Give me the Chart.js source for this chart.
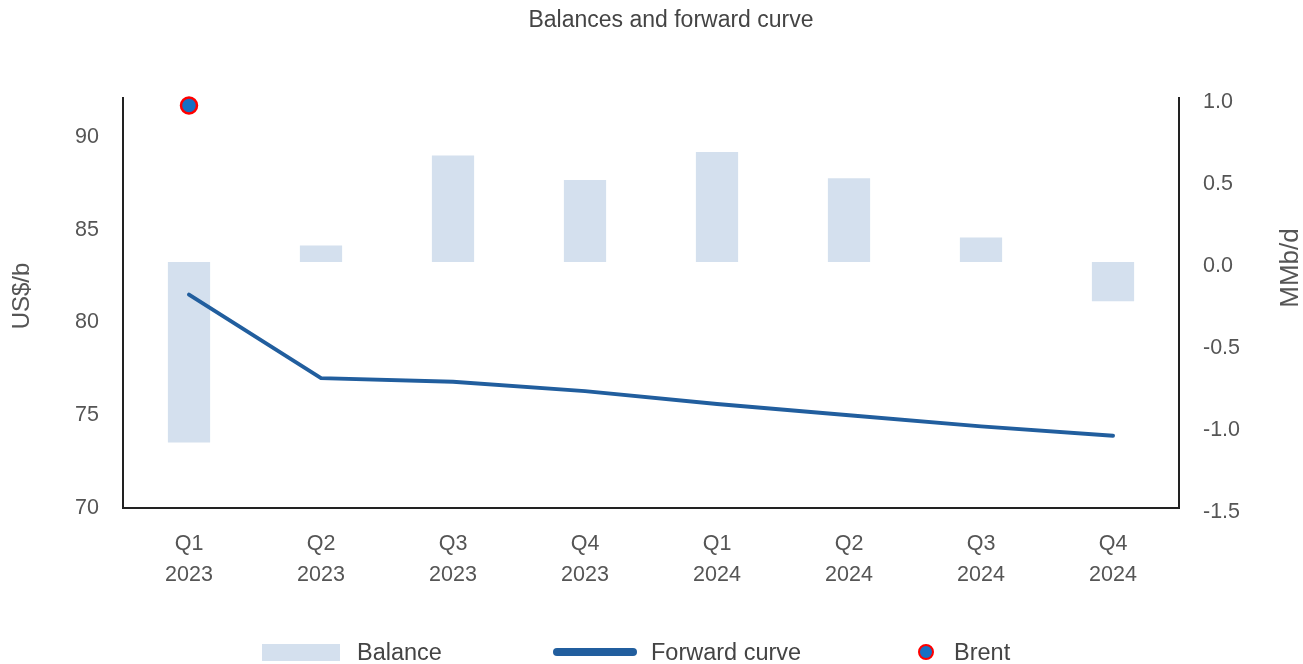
<!DOCTYPE html>
<html>
<head>
<meta charset="utf-8">
<script src="https://cdn.jsdelivr.net/npm/chart.js@4.4.1/dist/chart.umd.min.js"></script>
<style>
  body { margin: 0; background: #fff; font-family: "Liberation Sans", Arial, sans-serif; }
  #wrap { position: relative; width: 1303px; height: 664px; }
  .lg { position: absolute; top: 640px; height: 24px; display: flex; align-items: center; font-size: 23.5px; color: #444; }
</style>
</head>
<body>
<div id="wrap">
  <canvas id="chart"></canvas>
  <div class="lg" style="left:262px"><span style="display:inline-block;width:78px;height:17px;background:#d4e0ee;margin-right:17px"></span>Balance</div>
  <div class="lg" style="left:553px"><span style="display:inline-block;width:84px;height:8px;border-radius:4px;background:#215e9e;margin-right:14px"></span>Forward curve</div>
  <div class="lg" style="left:918px"><span style="display:inline-block;width:12px;height:12px;border-radius:50%;background:#1670c4;border:2.5px solid #f00;margin-right:20px"></span>Brent</div>
</div>
<script>
// ---- Data ----
const quarters = [['Q1','2023'],['Q2','2023'],['Q3','2023'],['Q4','2023'],['Q1','2024'],['Q2','2024'],['Q3','2024'],['Q4','2024']];
const balance = [-1.10, 0.10, 0.65, 0.50, 0.67, 0.51, 0.15, -0.24];
const forwardCurve = [81.5, 77.0, 76.8, 76.3, 75.6, 75.0, 74.4, 73.9];
const brent = [91.7, null, null, null, null, null, null, null];
const priceTicks = [70, 75, 80, 85, 90];
const balanceTicks = [-1.5, -1.0, -0.5, 0.0, 0.5, 1.0];

const tc = '#555';
const fam = '"Liberation Sans", Arial, sans-serif';
const tickFont = { family: fam, size: 21.5 };

// chart title and both axis titles (both read bottom-to-top), drawn by hand
const titles = {
  id: 'titles',
  afterDraw(chart) {
    const c = chart.ctx;
    const put = (txt, x, y, size, color, rot) => {
      c.save();
      c.translate(x, y);
      if (rot) c.rotate(-Math.PI / 2);
      c.font = size + 'px ' + fam;
      c.fillStyle = color;
      c.textAlign = 'center';
      c.textBaseline = 'middle';
      c.fillText(txt, 0, 0);
      c.restore();
    };
    put('Balances and forward curve', 671, 21, 23, '#444', false);
    put('US$/b', 22, 296, 24, tc, true);
    put('MMb/d', 1291, 268, 26, tc, true);
  }
};

new Chart(document.getElementById('chart'), {
  data: {
    labels: quarters,
    datasets: [
      { type: 'bar', label: 'Balance', data: balance, yAxisID: 'y1', backgroundColor: '#d4e0ee',
        barPercentage: 0.32, categoryPercentage: 1, order: 3 },
      { type: 'line', label: 'Forward curve', data: forwardCurve, yAxisID: 'y', borderColor: '#215e9e',
        borderWidth: 4, pointRadius: 0, tension: 0, borderCapStyle: 'round', order: 2 },
      { type: 'line', label: 'Brent', data: brent, yAxisID: 'y', showLine: false, pointRadius: 8,
        pointBackgroundColor: '#1670c4', pointBorderColor: '#f00', pointBorderWidth: 2.5, clip: false, order: 1 }
    ]
  },
  options: {
    responsive: true, maintainAspectRatio: false, animation: false,
    layout: { padding: { left: 0, right: 0, top: 98, bottom: 60 } },
    plugins: {
      legend: { display: false },
      tooltip: { enabled: false }
    },
    scales: {
      x: {
        grid: { display: false },
        border: { display: true, color: '#222', width: 2 },
        ticks: { color: tc, font: { ...tickFont, lineHeight: 1.42 }, padding: 13, maxRotation: 0 },
        afterFit: s => { s.height = 96; }
      },
      y: {
        position: 'left', min: 70, max: 92.1,
        grid: { display: false },
        border: { display: true, color: '#222', width: 2 },
        ticks: { color: tc, font: tickFont, padding: 16 },
        afterBuildTicks: s => { s.ticks = priceTicks.map(v => ({ value: v })); },
        afterFit: s => { s.width = 123; }
      },
      y1: {
        position: 'right', min: -1.5, max: 1.0,
        grid: { display: false },
        border: { display: true, color: '#222', width: 2 },
        ticks: { color: tc, font: tickFont, padding: 16, labelOffset: 4, callback: v => v.toFixed(1) },
        afterBuildTicks: s => { s.ticks = balanceTicks.map(v => ({ value: v })); },
        afterFit: s => { s.width = 124; }
      }
    }
  },
  plugins: [titles]
});
</script>
</body>
</html>
